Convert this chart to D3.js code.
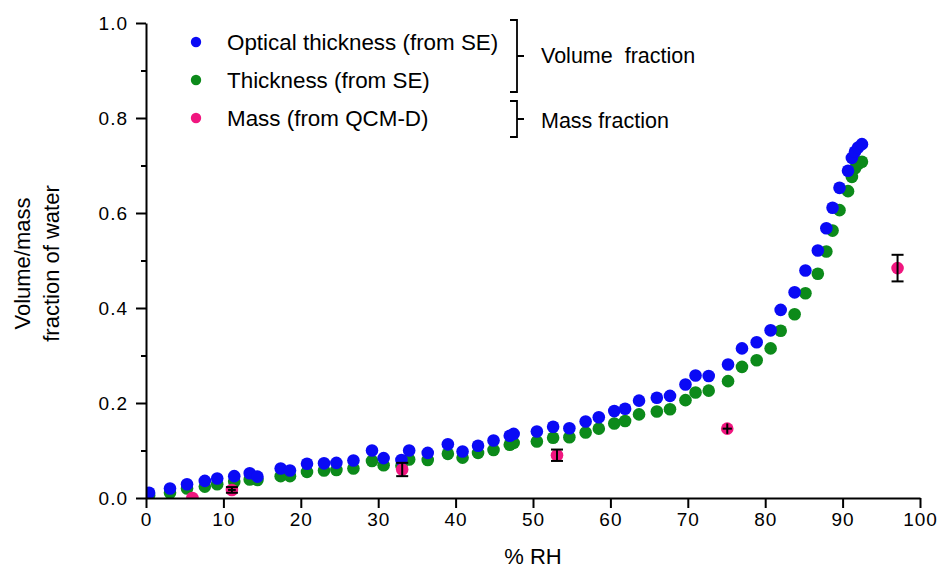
<!DOCTYPE html>
<html>
<head>
<meta charset="utf-8">
<script src="https://cdn.jsdelivr.net/npm/d3@7/dist/d3.min.js"></script>
<style>
  html, body { margin: 0; padding: 0; background: #fff; }
  svg { display: block; font-family: "Liberation Sans", Arial, sans-serif; }
</style>
</head>
<body>
<svg id="chart" width="941" height="574"></svg>
<script>
// Relative humidity (%) of each ellipsometry step, shared by both SE series
const rh = [0.4, 3.1, 5.3, 7.6, 9.2, 11.4, 13.4, 14.4, 17.4, 18.6, 20.8, 23.0, 24.6, 26.8,
  29.2, 30.7, 33.0, 34.0, 36.4, 39.0, 40.9, 42.9, 44.9, 47.0, 47.5, 50.5, 52.6, 54.7, 56.8,
  58.5, 60.5, 61.9, 63.7, 66.0, 67.7, 69.7, 71.0, 72.7, 75.2, 77.0, 78.9, 80.7, 82.0, 83.8,
  85.2, 86.8, 87.9, 88.7, 89.6, 90.7, 91.2, 91.6, 92.0, 92.5];

// Water volume fraction from optical thickness (SE)
const opticalThickness = [0.011, 0.020, 0.029, 0.036, 0.041, 0.046, 0.052, 0.045, 0.062, 0.058,
  0.072, 0.073, 0.074, 0.079, 0.100, 0.084, 0.080, 0.100, 0.095, 0.113, 0.098, 0.110, 0.121,
  0.131, 0.135, 0.140, 0.150, 0.147, 0.161, 0.170, 0.183, 0.188, 0.205, 0.211, 0.215, 0.239,
  0.258, 0.257, 0.281, 0.315, 0.328, 0.353, 0.396, 0.433, 0.479, 0.521, 0.568, 0.611, 0.653,
  0.689, 0.716, 0.729, 0.738, 0.745];

// Water volume fraction from physical thickness (SE)
const thickness = [0.006, 0.011, 0.020, 0.024, 0.029, 0.034, 0.039, 0.038, 0.046, 0.046,
  0.055, 0.058, 0.059, 0.062, 0.078, 0.069, 0.068, 0.081, 0.080, 0.093, 0.085, 0.095, 0.101,
  0.112, 0.116, 0.119, 0.127, 0.128, 0.138, 0.146, 0.157, 0.162, 0.176, 0.182, 0.187, 0.206,
  0.222, 0.226, 0.246, 0.276, 0.290, 0.315, 0.352, 0.387, 0.431, 0.472, 0.519, 0.563, 0.606,
  0.646, 0.676, 0.694, 0.703, 0.708];

// Water mass fraction from QCM-D, with uncertainties
const massRH = [6.0, 11.1, 33.1, 53.1, 75.1, 97.1];
const massFraction = [0.000, 0.017, 0.060, 0.090, 0.146, 0.484];
const massErrY = [0.000, 0.006, 0.014, 0.012, 0.011, 0.028];
const massErrX = [0.0, 0.5, 0.0, 0.0, 0.6, 0.0];
const massCapped = [false, true, true, true, false, true];

const xTicks = [0, 10, 20, 30, 40, 50, 60, 70, 80, 90, 100];
const yTicks = [0.0, 0.2, 0.4, 0.6, 0.8, 1.0];
const yMinorTicks = [0.1, 0.3, 0.5, 0.7, 0.9];

const legendItems = ["Optical thickness (from SE)", "Thickness (from SE)", "Mass (from QCM-D)"];
const groupLabels = ["Volume  fraction", "Mass fraction"];

const colors = { optical: "#0a0af5", thick: "#0c8a1a", mass: "#f0167f" };

const W = 941, H = 574;
const margin = { top: 23, right: 21, bottom: 76, left: 146 };
const svg = d3.select("#chart");

const x = d3.scaleLinear().domain([0, 100]).range([margin.left, W - margin.right]);
const y = d3.scaleLinear().domain([0, 1]).range([H - margin.bottom, margin.top]);

// Plot-area clip so markers are cut at the axes
svg.append("defs").append("clipPath").attr("id", "plotClip")
  .append("rect")
  .attr("x", x(0)).attr("y", y(1))
  .attr("width", x(100) - x(0)).attr("height", y(0) - y(1));

const plot = svg.append("g").attr("clip-path", "url(#plotClip)");
const R = 6.3;

// Thickness series (drawn underneath)
plot.append("g").selectAll("circle")
  .data(rh.map((v, i) => [v, thickness[i]]))
  .join("circle")
  .attr("cx", d => x(d[0])).attr("cy", d => y(d[1])).attr("r", R)
  .attr("fill", colors.thick);

// Optical thickness series
plot.append("g").selectAll("circle")
  .data(rh.map((v, i) => [v, opticalThickness[i]]))
  .join("circle")
  .attr("cx", d => x(d[0])).attr("cy", d => y(d[1])).attr("r", R)
  .attr("fill", colors.optical);

// Mass series
const massData = massRH.map((v, i) => ({
  x: v, y: massFraction[i], ey: massErrY[i], ex: massErrX[i], cap: massCapped[i]
}));
plot.append("g").selectAll("circle")
  .data(massData)
  .join("circle")
  .attr("cx", d => x(d.x)).attr("cy", d => y(d.y)).attr("r", R)
  .attr("fill", colors.mass);

// Error bars
const eb = plot.append("g").attr("stroke", "#000").attr("stroke-width", 2).attr("fill", "none");
const capW = 6;
massData.filter(d => d.ey > 0).forEach(d => {
  const cx = x(d.x);
  eb.append("line").attr("x1", cx).attr("x2", cx).attr("y1", y(d.y + d.ey)).attr("y2", y(d.y - d.ey));
  if (d.cap) {
    [d.y + d.ey, d.y - d.ey].forEach(v => {
      eb.append("line").attr("x1", cx - capW).attr("x2", cx + capW).attr("y1", y(v)).attr("y2", y(v));
    });
  }
});
massData.filter(d => d.ex > 0).forEach(d => {
  const cy = y(d.y);
  eb.append("line").attr("x1", x(d.x - d.ex)).attr("x2", x(d.x + d.ex)).attr("y1", cy).attr("y2", cy);
});

// Axes
const tickFont = "19px";
const xAxis = svg.append("g")
  .attr("transform", `translate(0,${y(0)})`)
  .call(d3.axisBottom(x).tickValues(xTicks).tickSize(10).tickSizeOuter(0).tickPadding(5));
xAxis.selectAll("text").style("font-size", tickFont).style("letter-spacing", "1px").attr("fill", "#000");

const yAxis = svg.append("g")
  .attr("transform", `translate(${x(0)},0)`)
  .call(d3.axisLeft(y).tickValues(yTicks).tickFormat(d3.format(".1f")).tickSize(10).tickSizeOuter(0).tickPadding(8));
yAxis.selectAll("text").style("font-size", tickFont).style("letter-spacing", "1px").attr("fill", "#000");

svg.append("g")
  .attr("transform", `translate(${x(0)},0)`)
  .call(d3.axisLeft(y).tickValues(yMinorTicks).tickFormat("").tickSize(5).tickSizeOuter(0))
  .call(g => g.select(".domain").remove());

svg.selectAll(".domain, .tick line").attr("stroke", "#000").attr("stroke-width", 2);

// Axis titles
svg.append("text")
  .attr("x", (x(0) + x(100)) / 2).attr("y", 564)
  .attr("text-anchor", "middle").style("font-size", "22px").attr("fill", "#000")
  .text("% RH");

const yTitle = svg.append("text")
  .attr("transform", `translate(30,${(y(0) + y(1)) / 2 + 3}) rotate(-90)`)
  .attr("text-anchor", "middle").style("font-size", "22px").attr("fill", "#000");
yTitle.append("tspan").attr("x", 0).attr("dy", 0).text("Volume/mass");
yTitle.append("tspan").attr("x", 0).attr("dy", 29).text("fraction of water");

// Legend
const legend = svg.append("g");
const legendColors = [colors.optical, colors.thick, colors.mass];
const rowY = [42, 80, 118];
legendItems.forEach((label, i) => {
  legend.append("circle").attr("cx", 196).attr("cy", rowY[i]).attr("r", 5.2).attr("fill", legendColors[i]);
  legend.append("text").attr("x", 227).attr("y", rowY[i] + 8)
    .style("font-size", "22.4px").attr("fill", "#000").text(label);
});

// Braces grouping the legend rows
function brace(top, bottom) {
  const bx = 517, mid = (top + bottom) / 2;
  const p = d3.path();
  p.moveTo(bx - 7, top); p.lineTo(bx, top); p.lineTo(bx, bottom); p.lineTo(bx - 7, bottom);
  p.moveTo(bx, mid); p.lineTo(bx + 7, mid);
  legend.append("path").attr("d", p.toString()).attr("fill", "none")
    .attr("stroke", "#000").attr("stroke-width", 1.8);
}
brace(20, 92);
brace(101, 137);

legend.append("text").attr("x", 541).attr("y", 63).style("font-size", "21.5px")
  .style("white-space", "pre").attr("fill", "#000").text(groupLabels[0]);
legend.append("text").attr("x", 541).attr("y", 128).style("font-size", "21.5px")
  .attr("fill", "#000").text(groupLabels[1]);
</script>
</body>
</html>
